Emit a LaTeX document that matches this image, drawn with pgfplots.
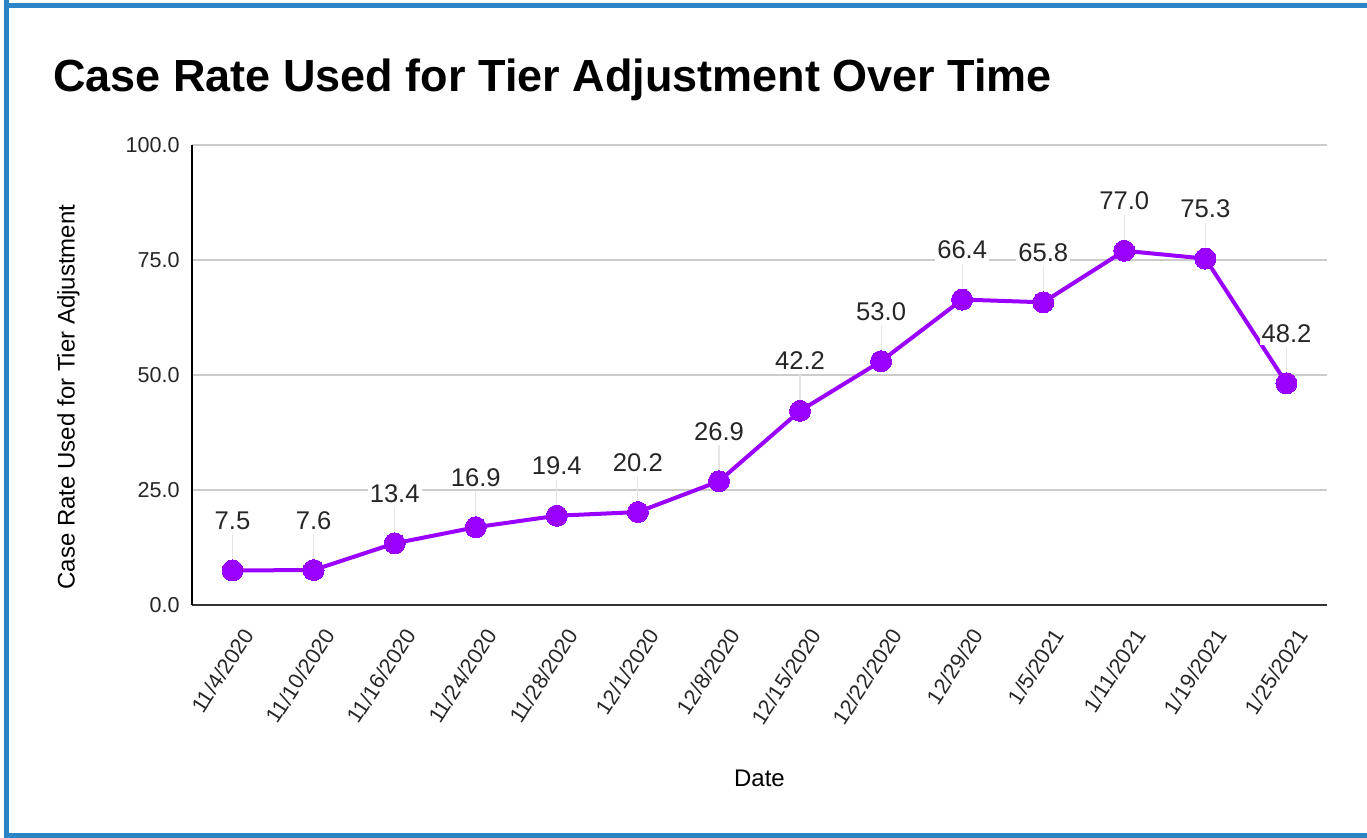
\documentclass[border=0pt]{standalone}
\usepackage{pgfplots}
\pgfplotsset{compat=1.18}
\usepackage{pgfplotstable}
\usepackage{fontspec}
\setmainfont{Liberation Sans}
\definecolor{bordblue}{RGB}{43,132,198}
\definecolor{lineviolet}{HTML}{9900FF}
\definecolor{gridgray}{RGB}{204,204,204}
\pgfplotstableread{
x y e
0 7.5 7.8
1 7.6 7.8
2 13.4 7.8
3 16.9 7.8
4 19.4 7.8
5 20.2 7.8
6 26.9 7.8
7 42.2 7.8
8 53.0 7.8
9 66.4 7.8
10 65.8 7.8
11 77.0 7.8
12 75.3 7.8
13 48.2 7.8
}\datatable
\begin{document}
\begin{tikzpicture}[x=0.5pt,y=0.5pt]
\path (0,0) rectangle (1367,838);
\fill[bordblue] (4,0) rectangle (9,838);
\fill[bordblue] (4,830) rectangle (1367,835);
\fill[bordblue] (4,0) rectangle (1367,5);
\node[anchor=base west, inner sep=0, font=\fontsize{22.5}{27}\selectfont\bfseries] at (53,746) {Case Rate Used for Tier Adjustment Over Time};
\begin{axis}[
  at={(96pt,116.5pt)}, anchor=south west,
  scale only axis, width=567.5pt, height=230pt,
  xmin=-0.5, xmax=13.5, ymin=0, ymax=100,
  clip=false,
  axis x line*=bottom, axis y line*=left,
  x axis line style={draw=black!80, line width=1pt, -},
  y axis line style={draw=black, line width=1pt, -},
  major tick length=0pt,
  ytick={0,25,50,75,100},
  ymajorgrids, grid style={draw=gridgray, line width=0.8pt},
  /pgf/number format/assume math mode=true,
  yticklabel={\pgfmathprintnumber[fixed,fixed zerofill,precision=1]{\tick}},
  yticklabel style={anchor=east, inner sep=0pt, xshift=-6pt, font=\fontsize{10.8}{13}\selectfont, text=black!85},
  xtick={0,...,13},
  xticklabels={11/4/2020, 11/10/2020, 11/16/2020, 11/24/2020, 11/28/2020, 12/1/2020, 12/8/2020, 12/15/2020, 12/22/2020, 12/29/20, 1/5/2021, 1/11/2021, 1/19/2021, 1/25/2021},
  xticklabel style={xshift=8pt, yshift=-13pt, rotate=57, anchor=east, inner sep=0pt, font=\fontsize{10.8}{13}\selectfont, text=black!85},
  xlabel={Date},
  ylabel={Case Rate Used for Tier Adjustment},
  xlabel style={at={(axis description cs:0.5,-0.376)}, anchor=center, font=\fontsize{12}{14}\selectfont},
  ylabel style={at={(axis description cs:-0.1088,0.452)}, anchor=center, font=\fontsize{12}{14}\selectfont},
]
\addplot[only marks, mark=none, forget plot,
  error bars/.cd, y dir=plus, y explicit, error mark=none,
  error bar style={draw=black!10, line width=0.6pt}]
  table[x=x, y=y, y error=e] {\datatable};
\addplot[color=lineviolet, line width=2pt, mark=*, mark size=5.25pt,
  mark options={fill=lineviolet, draw=lineviolet, line width=0pt},
  nodes near coords={\pgfmathprintnumber[fixed,fixed zerofill,precision=1]{\pgfplotspointmeta}},
  every node near coord/.append style={anchor=base, yshift=20.5pt, fill=white, inner sep=1pt, text=black!85, font=\fontsize{12.8}{15}\selectfont}]
  table[x=x, y=y] {\datatable};
\end{axis}
\end{tikzpicture}
\end{document}
